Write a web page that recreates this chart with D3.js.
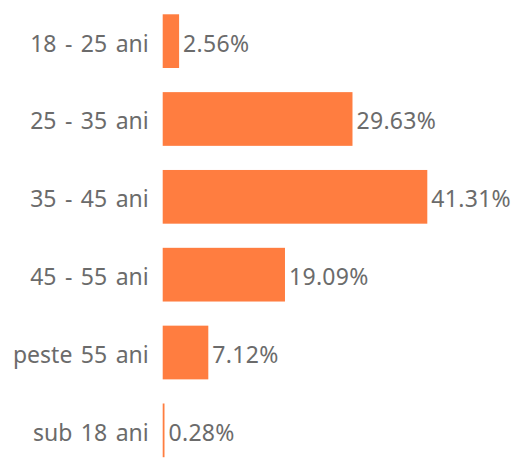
<!DOCTYPE html>
<html><head><meta charset="utf-8">
<script src="https://cdn.jsdelivr.net/npm/d3@7"></script>
<style>body{margin:0;background:#fff}svg{display:block}</style>
</head><body>
<script>
const categories = ["18 - 25 ani","25 - 35 ani","35 - 45 ani","45 - 55 ani","peste 55 ani","sub 18 ani"];
const values = [2.56, 29.63, 41.31, 19.09, 7.12, 0.28];
const valueLabels = ["2.56%","29.63%","41.31%","19.09%","7.12%","0.28%"];

const W = 515, H = 458;
const svg = d3.select("body").append("svg").attr("width", W).attr("height", H);
const x0 = 162.7;
const x = d3.scaleLinear().domain([0, 41.31]).range([x0, 427.3]);
const y = d3.scaleBand().domain(categories).range([-0.5, 472]).paddingInner(0.31).paddingOuter(0.19);

const font = "'Noto Sans', sans-serif";
const fs = 23;
svg.selectAll("rect.bar").data(values).join("rect")
  .attr("x", x0)
  .attr("y", (d,i) => y(categories[i]))
  .attr("width", d => x(d) - x0)
  .attr("height", y.bandwidth())
  .attr("fill", "#FF7D40");

svg.selectAll("text.cat").data(categories).join("text")
  .attr("x", x0 - 14)
  .attr("y", d => y(d) + y.bandwidth()/2 + 1.5)
  .attr("text-anchor", "end")
  .attr("dominant-baseline", "central")
  .attr("font-family", font).attr("font-size", fs)
  .attr("word-spacing", 2.5)
  .attr("fill", "#6b6b6b")
  .text(d => d);

svg.selectAll("text.val").data(values).join("text")
  .attr("x", d => x(d) + 4)
  .attr("y", (d,i) => y(categories[i]) + y.bandwidth()/2 + 1.5)
  .attr("dominant-baseline", "central")
  .attr("font-family", font).attr("font-size", fs)
  .attr("letter-spacing", 0.3)
  .attr("fill", "#6b6b6b")
  .text((d,i) => valueLabels[i]);
</script>
</body></html>
